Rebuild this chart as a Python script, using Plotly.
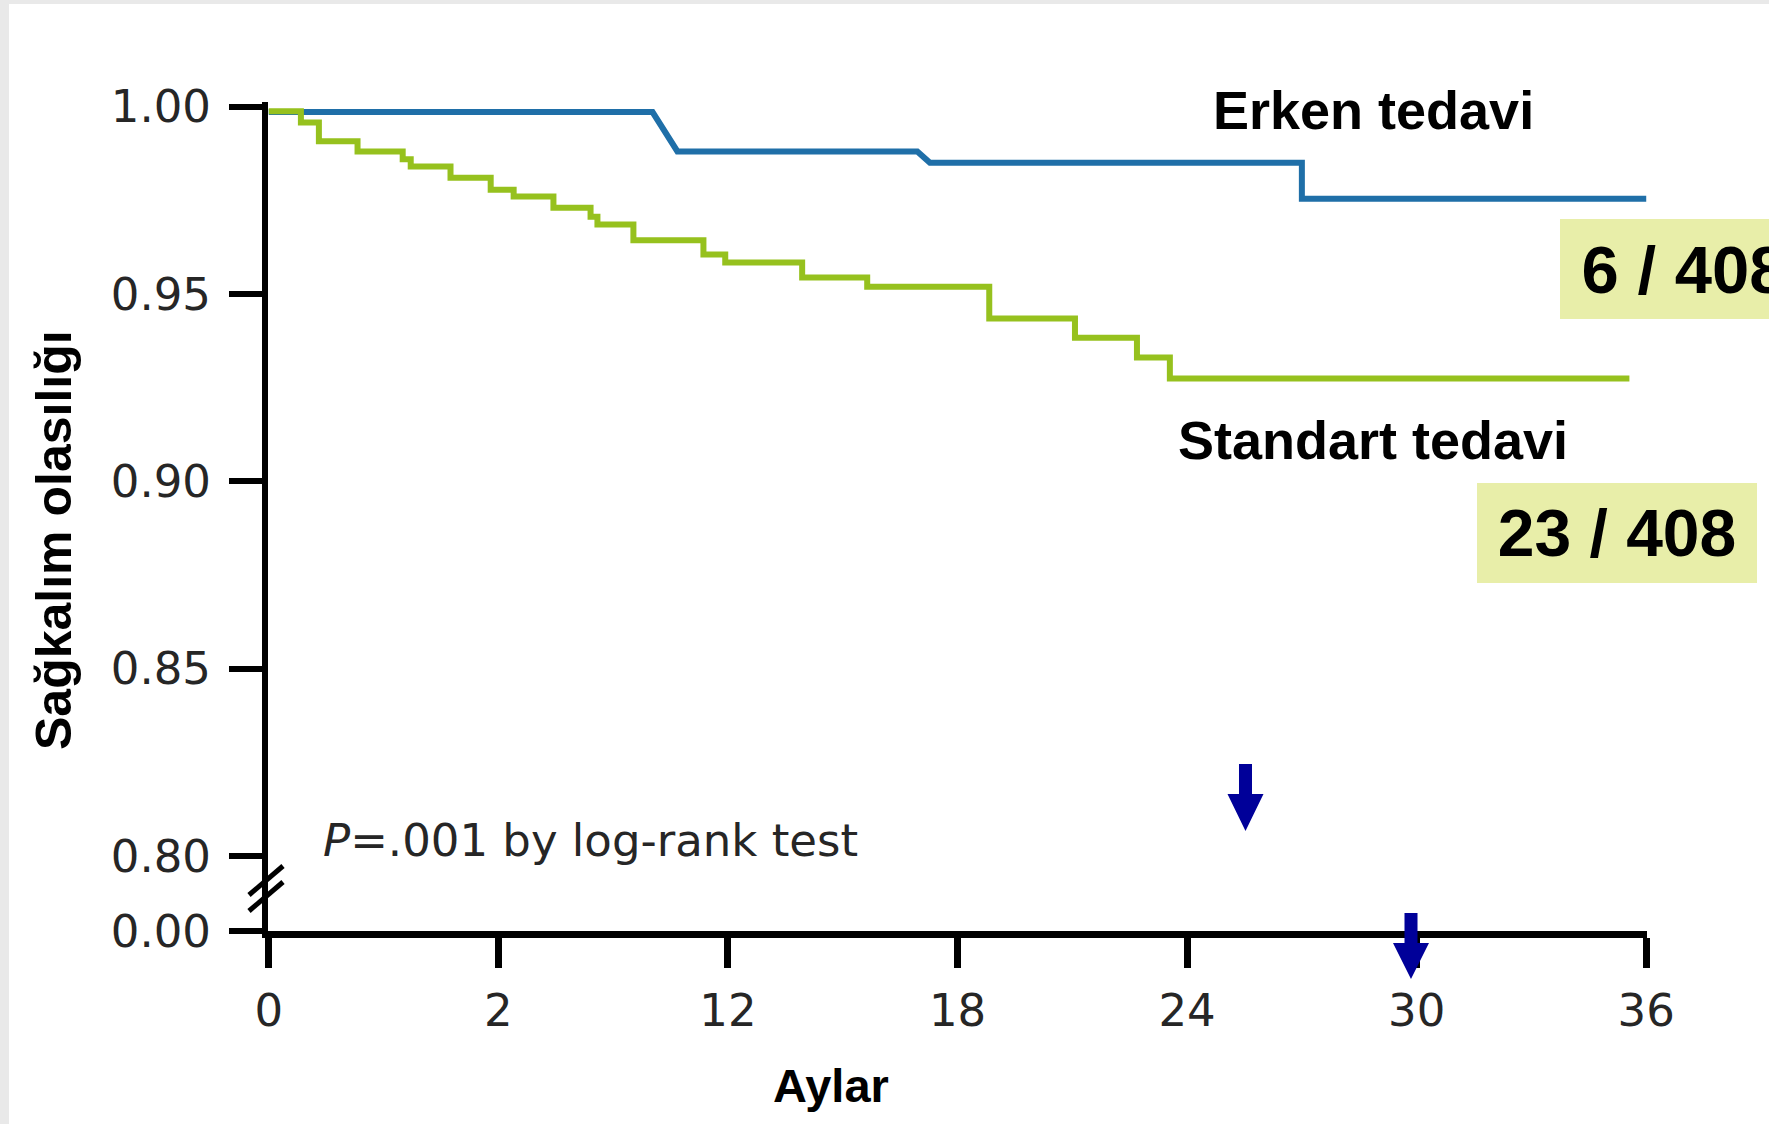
import plotly.graph_objects as go

# ---------------- data ----------------
x_tick_vals = [0, 6, 12, 18, 24, 30, 36]
x_tick_text = ["0", "2", "12", "18", "24", "30", "36"]

y_tick_vals = [0.78005, 0.80, 0.85, 0.90, 0.95, 1.00]
y_tick_text = ["0.00", "0.80", "0.85", "0.90", "0.95", "1.00"]

erken_t = [0, 10.03, 10.68, 16.95, 17.28, 27.0, 27.0, 36.0]
erken_s = [0.9985, 0.9985, 0.9880, 0.9880, 0.9850, 0.9850, 0.9754, 0.9754]

standart_t = [0, 0.84, 1.31, 2.32, 3.50, 3.71, 4.75, 5.80, 6.40, 7.44, 8.41,
              8.59, 9.53, 11.36, 11.93, 13.94, 15.64, 18.83, 21.07, 22.69,
              23.55, 35.56]
standart_s = [0.9987, 0.9957, 0.9907, 0.9880, 0.9859, 0.9840, 0.9810, 0.9778,
              0.9760, 0.9730, 0.9706, 0.9685, 0.9643, 0.9605, 0.9584, 0.9544,
              0.9519, 0.9434, 0.9383, 0.9330, 0.9274, 0.9274]

label_erken = "Erken tedavi"
label_standart = "Standart tedavi"
count_erken = "6 / 408"
count_standart = "23 / 408"
p_text = "<i>P</i>=.001 by log-rank test"
y_title = "Sağkalım olasılığı"
x_title = "Aylar"

# ---------------- layout geometry (pixels) ----------------
W, H = 1769, 1124
L, R, T, B = 268, 122, 102, 193
PW = W - L - R
PH = H - T - B
BOT = H - B


def PX(px):
    return (px - L) / PW


def PY(py):
    return (BOT - py) / PH


BLUE = "#1f6fa8"
GREEN = "#96c11e"
ARROW = "#000099"
BOX = "#e8eea9"
TICKFONT = dict(family="DejaVu Sans", size=45, color="#262626")
BOLD = "Liberation Sans"

fig = go.Figure()
fig.add_trace(go.Scatter(x=erken_t, y=erken_s, mode="lines",
                         line=dict(color=BLUE, width=6), name=label_erken,
                         hoverinfo="skip"))
fig.add_trace(go.Scatter(x=standart_t, y=standart_s, mode="lines",
                         line=dict(color=GREEN, width=6, shape="hv"),
                         name=label_standart, hoverinfo="skip"))

shapes = []
# page frame (light grey edges)
shapes.append(dict(type="rect", xref="paper", yref="paper", layer="below",
                   x0=PX(9), x1=PX(W + 5), y0=PY(H + 5), y1=PY(4),
                   fillcolor="white", line=dict(width=0)))
# axis break marks
for (xa, ya, xb, yb) in [(249, 895, 283, 866), (249, 911, 283, 882)]:
    shapes.append(dict(type="line", xref="paper", yref="paper", layer="above",
                       x0=PX(xa), y0=PY(ya), x1=PX(xb), y1=PY(yb),
                       line=dict(color="black", width=5)))


def arrow_path(cx, top, head_y, tip, shaft_half=6.5, head_half=18):
    pts = [(cx - shaft_half, top), (cx + shaft_half, top),
           (cx + shaft_half, head_y), (cx + head_half, head_y),
           (cx, tip), (cx - head_half, head_y), (cx - shaft_half, head_y)]
    return "M " + " L ".join(f"{PX(a):.5f},{PY(b):.5f}" for a, b in pts) + " Z"


for (cx, top, hy, tip) in [(1245.5, 764, 794, 831), (1411, 913, 943, 979)]:
    shapes.append(dict(type="path", xref="paper", yref="paper", layer="above",
                       path=arrow_path(cx, top, hy, tip),
                       fillcolor=ARROW, line=dict(width=0)))

annotations = [
    dict(text=label_erken, x=PX(1373), y=PY(110), xref="paper", yref="paper",
         xanchor="center", yanchor="middle", showarrow=False,
         font=dict(family=BOLD, size=54, color="black", weight="bold")),
    dict(text=label_standart, x=PX(1373), y=PY(440), xref="paper", yref="paper",
         xanchor="center", yanchor="middle", showarrow=False,
         font=dict(family=BOLD, size=54, color="black", weight="bold")),
    dict(text=count_erken, x=PX(1560), y=PY(219), xref="paper", yref="paper",
         xanchor="left", yanchor="top", showarrow=False, width=248, height=100,
         bgcolor=BOX, borderpad=0, borderwidth=0, align="center", valign="middle",
         font=dict(family=BOLD, size=67, color="black", weight="bold")),
    dict(text=count_standart, x=PX(1477), y=PY(483), xref="paper", yref="paper",
         xanchor="left", yanchor="top", showarrow=False, width=280, height=100,
         bgcolor=BOX, borderpad=0, borderwidth=0, align="center", valign="middle",
         font=dict(family=BOLD, size=66, color="black", weight="bold")),
    dict(text=p_text, x=PX(321), y=PY(840), xref="paper", yref="paper",
         xanchor="left", yanchor="middle", showarrow=False, font=TICKFONT),
    dict(text=y_title, x=PX(54), y=PY(540), xref="paper", yref="paper",
         xanchor="center", yanchor="middle", showarrow=False, textangle=-90,
         font=dict(family=BOLD, size=50, color="black", weight="bold")),
    dict(text=x_title, x=PX(831), y=PY(1085), xref="paper", yref="paper",
         xanchor="center", yanchor="middle", showarrow=False,
         font=dict(family=BOLD, size=47, color="black", weight="bold")),
]

fig.update_layout(
    width=W, height=H,
    margin=dict(l=L, r=R, t=T, b=B, pad=0),
    paper_bgcolor="#e9e9e9", plot_bgcolor="rgba(0,0,0,0)",
    showlegend=False,
    shapes=shapes, annotations=annotations,
    xaxis=dict(range=[-0.02, 36.02], tickmode="array", tickvals=x_tick_vals,
               ticktext=x_tick_text, showline=True, linecolor="black",
               linewidth=7, ticks="outside", ticklen=30, tickwidth=7,
               tickcolor="black", showgrid=False, zeroline=False,
               tickfont=TICKFONT, ticklabelstandoff=4, fixedrange=True),
    yaxis=dict(range=[0.78, 1.0012], tickmode="array", tickvals=y_tick_vals,
               ticktext=y_tick_text, showline=True, linecolor="black",
               linewidth=6, ticks="outside", ticklen=33, tickwidth=6,
               tickcolor="black", showgrid=False, zeroline=False,
               tickfont=TICKFONT, ticklabelstandoff=9, fixedrange=True),
)

fig.write_html("out.html")
